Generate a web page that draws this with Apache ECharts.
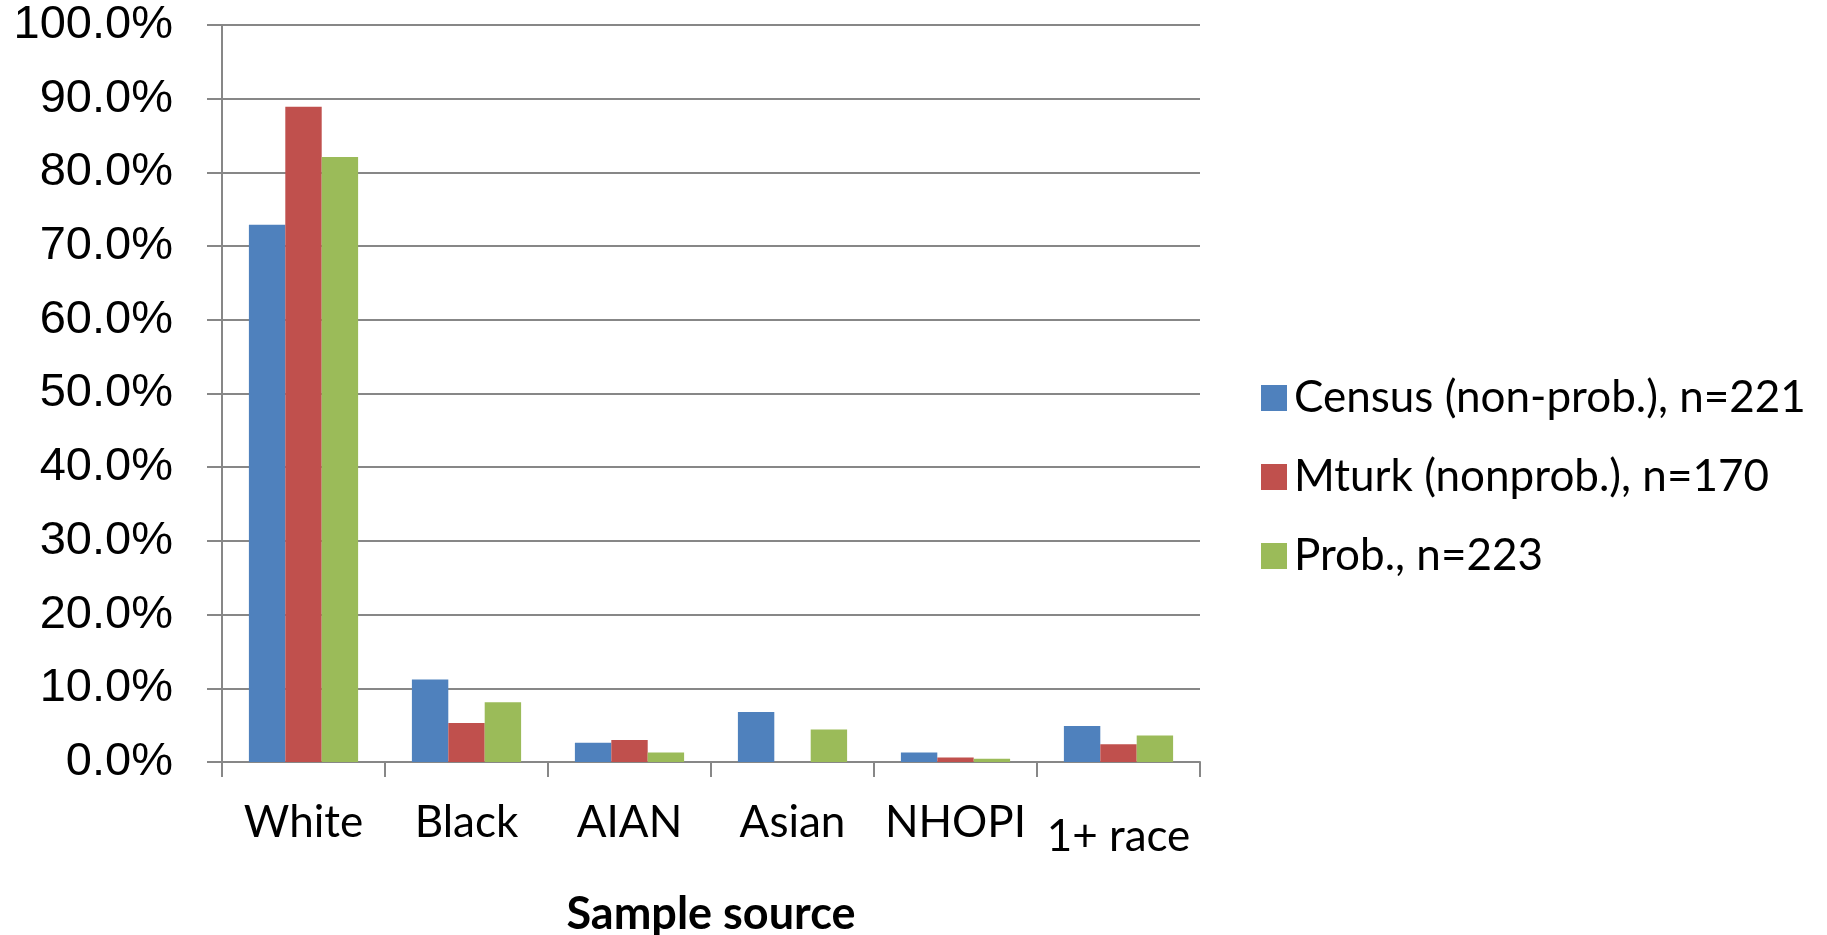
<!DOCTYPE html>
<html>
<head>
<meta charset="utf-8">
<script src="https://cdn.jsdelivr.net/npm/echarts@6/dist/echarts.min.js"></script>
<style>
  html, body { margin: 0; padding: 0; background: #ffffff; }
  #chart { width: 1827px; height: 935px; }
</style>
</head>
<body>
<div id="chart"></div>
<script>
// Race categories along the x axis
const categories = ['White', 'Black', 'AIAN', 'Asian', 'NHOPI', '1+ race'];

// Share of respondents (%) in each sample
const census = [72.9, 11.2, 2.6, 6.8, 1.3, 4.9];
const mturk = [88.9, 5.3, 3.0, 0, 0.6, 2.4];
const prob = [82.1, 8.1, 1.3, 4.4, 0.45, 3.6];

const seriesNames = ['Census (non-prob.), n=221', 'Mturk (nonprob.), n=170', 'Prob., n=223'];
const seriesColors = ['#4F81BD', '#C0504D', '#9BBB59'];
const axisTitle = 'Sample source';

const gray = '#878787';
const sans = 'Lato, "Open Sans", sans-serif';

const chart = echarts.init(document.getElementById('chart'), null, { renderer: 'canvas' });

const makeBar = (name, values, color) => ({
  name: name,
  type: 'bar',
  data: values,
  barGap: '0%',
  barCategoryGap: '33%',
  itemStyle: { color: color },
  emphasis: { disabled: true }
});

chart.setOption({
  animation: false,
  backgroundColor: '#ffffff',
  grid: { left: 222, right: 627, top: 25, bottom: 173, containLabel: false, outerBoundsMode: 'none' },
  legend: {
    orient: 'vertical',
    left: 1256,
    top: 368,
    itemWidth: 26,
    itemHeight: 26,
    itemGap: 29,
    icon: 'rect',
    textStyle: { fontFamily: sans, fontSize: 44, color: '#000', lineHeight: 50, padding: [0, 0, 0, 2] },
    data: seriesNames
  },
  xAxis: {
    type: 'category',
    data: categories.map(c => c === '1+ race'
      ? { value: c, textStyle: { padding: [14, 0, 0, 0] } }
      : c),
    axisLine: { lineStyle: { color: gray, width: 2 } },
    axisTick: { show: true, interval: 0, length: 15, lineStyle: { color: gray, width: 2 } },
    axisLabel: { interval: 0, fontFamily: sans, fontSize: 44, color: '#000', margin: 39 },
    name: axisTitle,
    nameLocation: 'middle',
    nameGap: 130,
    nameTextStyle: { fontFamily: sans, fontSize: 45, fontWeight: 'bold', color: '#000' }
  },
  yAxis: {
    type: 'value',
    min: 0,
    max: 100,
    interval: 10,
    axisLine: { show: true, lineStyle: { color: gray, width: 2 } },
    axisTick: { show: true, length: 15, lineStyle: { color: gray, width: 2 } },
    splitLine: { lineStyle: { color: gray, width: 2 } },
    axisLabel: {
      fontFamily: '"Liberation Sans", Arial, sans-serif',
      fontSize: 47,
      color: '#000',
      margin: 49,
      formatter: v => v.toFixed(1) + '%'
    }
  },
  series: [
    makeBar(seriesNames[0], census, seriesColors[0]),
    makeBar(seriesNames[1], mturk, seriesColors[1]),
    makeBar(seriesNames[2], prob, seriesColors[2])
  ]
});
</script>
</body>
</html>
